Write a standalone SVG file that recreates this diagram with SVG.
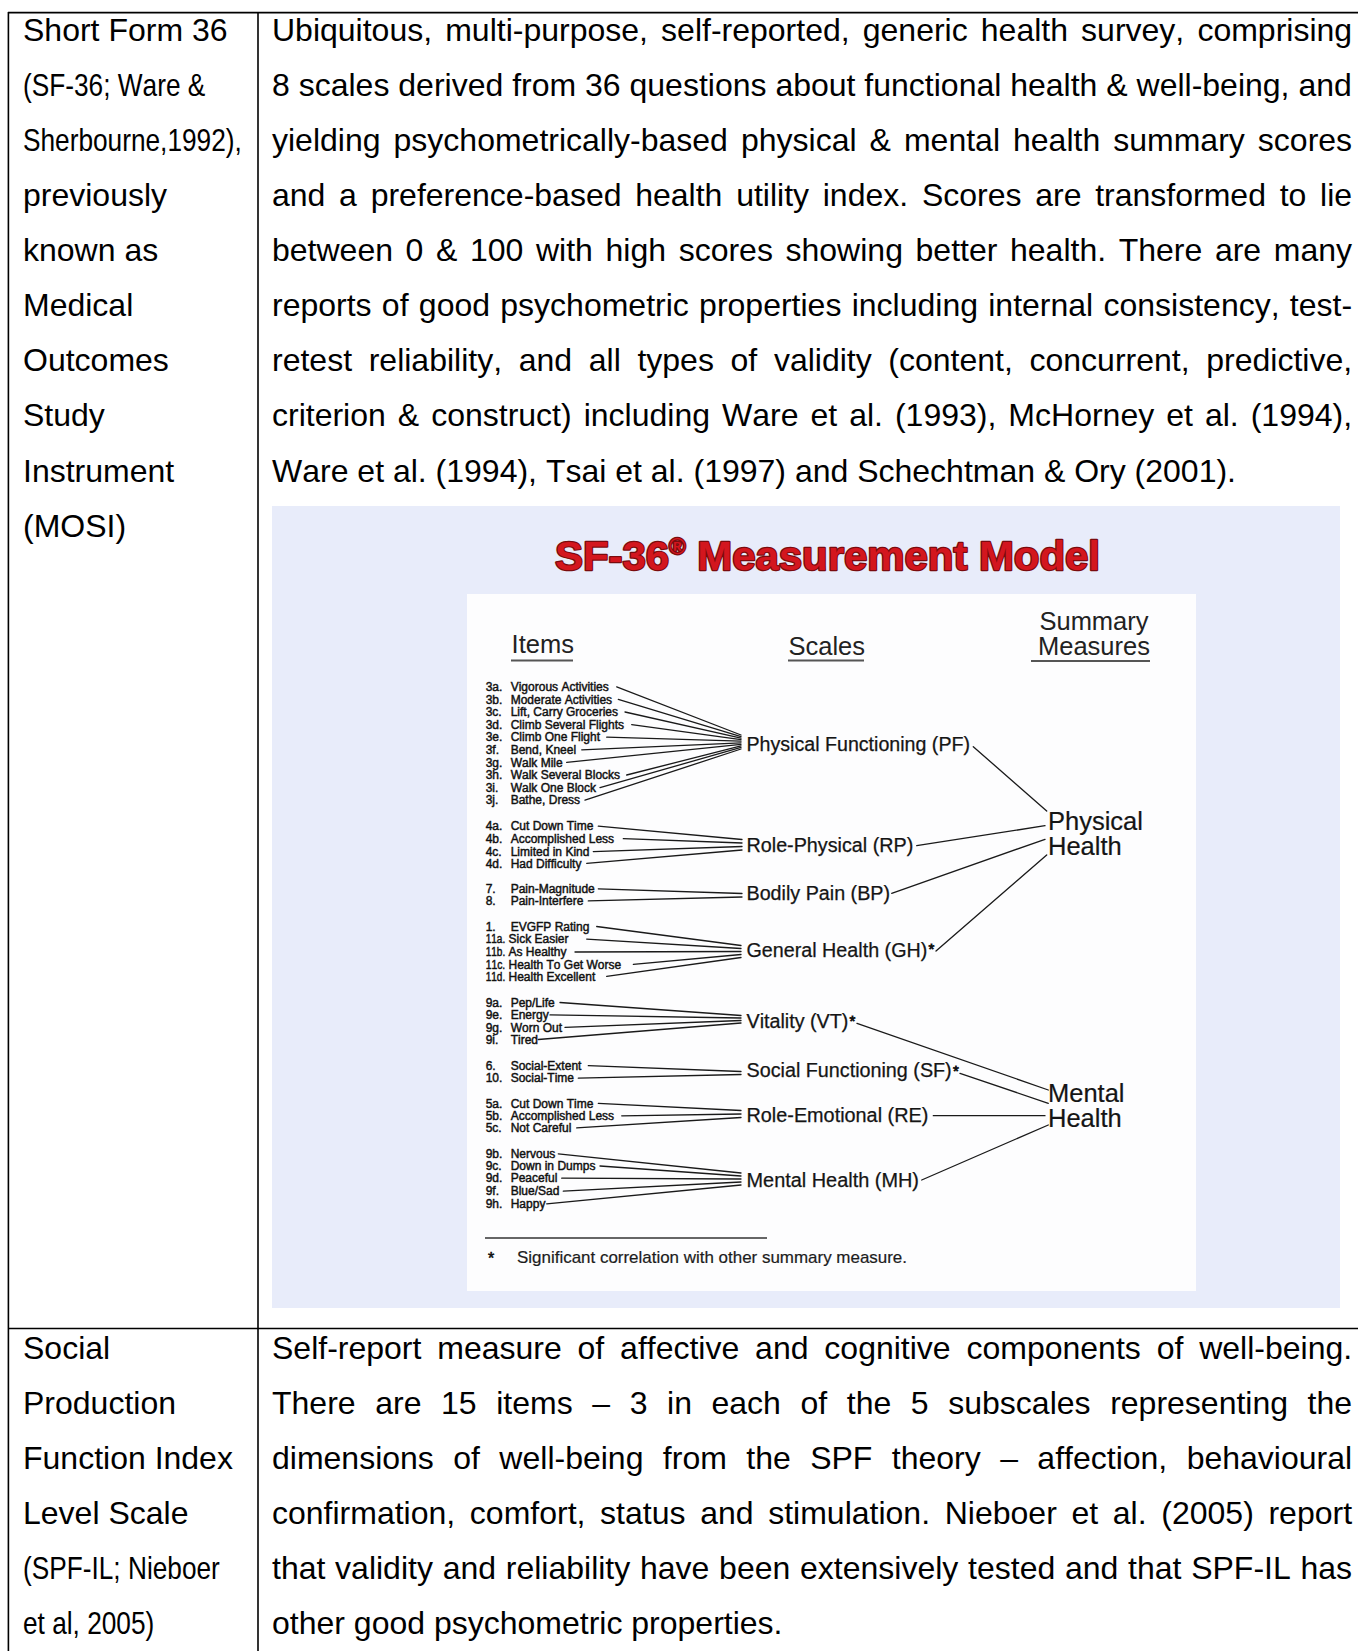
<svg xmlns="http://www.w3.org/2000/svg" width="1358" height="1651" viewBox="0 0 1358 1651">
<style>
text{font-family:"Liberation Sans",Arial,sans-serif;font-kerning:none}
.body{font-size:32px;fill:#000}
.narrow{font-family:"Liberation Sans Narrow","Arial Narrow","Liberation Sans",sans-serif;font-size:32px;fill:#000}
.grid{stroke:#000;stroke-width:1.6;fill:none}
.item{font-size:12px;fill:#111;stroke:#111;stroke-width:0.45}
.scale{font-size:19.5px;fill:#151515;stroke:#151515;stroke-width:0.25}
.summ{font-size:25.5px;fill:#151515;stroke:#151515;stroke-width:0.2}
.hdr{font-size:25.5px;fill:#222}
.ast{font-size:15px;fill:#111;stroke:#111;stroke-width:0.8}
.ul{stroke:#555;stroke-width:2}
.c line{stroke:#1a1a1a;stroke-width:1.3;stroke-linecap:round}
</style>
<rect width="1358" height="1651" fill="#fff"/>
<g id="table-grid">
<line class="grid" x1="8" y1="12.6" x2="1358" y2="12.6"/>
<line class="grid" x1="8.4" y1="12" x2="8.4" y2="1651"/>
<line class="grid" x1="258" y1="12" x2="258" y2="1651"/>
<line class="grid" x1="8" y1="1328.5" x2="1358" y2="1328.5"/>
</g>
<g id="row1-name">
<text class="body" x="23" y="41">Short Form 36</text>
<text class="narrow" x="23" y="96.1" textLength="182.3" lengthAdjust="spacingAndGlyphs">(SF-36; Ware &amp;</text>
<text class="narrow" x="23" y="151.1" textLength="218.8" lengthAdjust="spacingAndGlyphs">Sherbourne,1992),</text>
<text class="body" x="23" y="206.2">previously</text>
<text class="body" x="23" y="261.2">known as</text>
<text class="body" x="23" y="316.3">Medical</text>
<text class="body" x="23" y="371.4">Outcomes</text>
<text class="body" x="23" y="426.4">Study</text>
<text class="body" x="23" y="481.5">Instrument</text>
<text class="body" x="23" y="536.5">(MOSI)</text>
</g>
<g id="row1-desc">
<text class="body" x="272" y="41" word-spacing="4.23">Ubiquitous, multi-purpose, self-reported, generic health survey, comprising</text>
<text class="body" x="272" y="96.1">8 scales derived from 36 questions about functional health &amp; well-being, and</text>
<text class="body" x="272" y="151.1" word-spacing="4.14">yielding psychometrically-based physical &amp; mental health summary scores</text>
<text class="body" x="272" y="206.2" word-spacing="4.84">and a preference-based health utility index. Scores are transformed to lie</text>
<text class="body" x="272" y="261.2" word-spacing="3.73">between 0 &amp; 100 with high scores showing better health. There are many</text>
<text class="body" x="272" y="316.3" word-spacing="1.39">reports of good psychometric properties including internal consistency, test-</text>
<text class="body" x="272" y="371.4" word-spacing="7.76">retest reliability, and all types of validity (content, concurrent, predictive,</text>
<text class="body" x="272" y="426.4" word-spacing="3.12">criterion &amp; construct) including Ware et al. (1993), McHorney et al. (1994),</text>
<text class="body" x="272" y="481.5">Ware et al. (1994), Tsai et al. (1997) and Schechtman &amp; Ory (2001).</text>
</g>
<g id="sf36-figure">
<rect x="272" y="506" width="1068" height="802" fill="#E8ECFA"/>
<rect x="467" y="594" width="729" height="697" fill="#FDFDFE"/>
<text x="555" y="569.5" font-size="41" font-weight="bold" fill="#D3161E" stroke="#7a0b0e" stroke-width="2.4" paint-order="stroke" stroke-linejoin="round" textLength="545" lengthAdjust="spacingAndGlyphs">SF-36<tspan font-size="22" dy="-16">®</tspan><tspan dy="16"> Measurement Model</tspan></text>
</g>
<g id="headers">
<text class="hdr" x="511.6" y="653.4">Items</text>
<line class="ul" x1="511" y1="660.5" x2="573" y2="660.5"/>
<text class="hdr" x="788.5" y="654.5">Scales</text>
<line class="ul" x1="788" y1="660.5" x2="864" y2="660.5"/>
<text class="hdr" x="1094" y="630" text-anchor="middle">Summary</text>
<text class="hdr" x="1094" y="655" text-anchor="middle">Measures</text>
<line class="ul" x1="1031" y1="661" x2="1150" y2="661"/>
</g>
<g id="connectors" class="c">
<line x1="616.7" y1="686.8" x2="741" y2="735"/>
<line x1="618.3" y1="699.4" x2="741" y2="736.6"/>
<line x1="625" y1="712" x2="741" y2="738.1"/>
<line x1="631.7" y1="724.6" x2="741" y2="739.7"/>
<line x1="606.7" y1="737.2" x2="741" y2="741.2"/>
<line x1="581.7" y1="749.8" x2="741" y2="742.8"/>
<line x1="566.7" y1="762.4" x2="741" y2="744.3"/>
<line x1="626.7" y1="775" x2="741" y2="745.9"/>
<line x1="600" y1="787.6" x2="741" y2="747.4"/>
<line x1="585" y1="800.2" x2="741" y2="749"/>
<line x1="598.3" y1="826.2" x2="742" y2="839.5"/>
<line x1="623.3" y1="838.7" x2="742" y2="843"/>
<line x1="593.3" y1="851.6" x2="742" y2="846.5"/>
<line x1="586.7" y1="863.3" x2="742" y2="850"/>
<line x1="598.3" y1="888.8" x2="742" y2="893.5"/>
<line x1="588.3" y1="900.9" x2="742" y2="897"/>
<line x1="596.7" y1="926.5" x2="741" y2="945.5"/>
<line x1="586.7" y1="939.1" x2="741" y2="948.5"/>
<line x1="575" y1="952" x2="741" y2="951.5"/>
<line x1="633.3" y1="964.3" x2="741" y2="954.5"/>
<line x1="606.7" y1="976.3" x2="741" y2="957.5"/>
<line x1="560" y1="1002.5" x2="741" y2="1015.5"/>
<line x1="550" y1="1014.9" x2="741" y2="1018"/>
<line x1="565" y1="1027.4" x2="741" y2="1020.5"/>
<line x1="538.3" y1="1039.5" x2="741" y2="1023"/>
<line x1="588.3" y1="1065.7" x2="741" y2="1071.5"/>
<line x1="578.3" y1="1078.2" x2="741" y2="1074.5"/>
<line x1="598.3" y1="1103.3" x2="741" y2="1110.5"/>
<line x1="621.7" y1="1115.8" x2="741" y2="1114"/>
<line x1="576.7" y1="1127.9" x2="741" y2="1117.5"/>
<line x1="558.3" y1="1153.9" x2="741" y2="1173"/>
<line x1="600" y1="1166" x2="741" y2="1176"/>
<line x1="561.7" y1="1178.2" x2="741" y2="1179"/>
<line x1="563.3" y1="1191.2" x2="741" y2="1182"/>
<line x1="546.7" y1="1203.8" x2="741" y2="1185"/>
<line x1="973.3" y1="746.7" x2="1046.7" y2="811"/>
<line x1="916.7" y1="845.7" x2="1045" y2="825.7"/>
<line x1="891.7" y1="893.3" x2="1045" y2="839.3"/>
<line x1="936" y1="951" x2="1046.7" y2="855"/>
<line x1="857" y1="1023.3" x2="1048.3" y2="1090"/>
<line x1="960" y1="1073.3" x2="1048.3" y2="1103.3"/>
<line x1="933.3" y1="1115.7" x2="1045" y2="1115.7"/>
<line x1="921.7" y1="1180" x2="1048.3" y2="1125"/>
</g>
<g id="items-PF" class="item">
<text x="485.7" y="691">3a.</text><text x="510.7" y="691">Vigorous Activities</text>
<text x="485.7" y="703.6">3b.</text><text x="510.7" y="703.6">Moderate Activities</text>
<text x="485.7" y="716.2">3c.</text><text x="510.7" y="716.2">Lift, Carry Groceries</text>
<text x="485.7" y="728.8">3d.</text><text x="510.7" y="728.8">Climb Several Flights</text>
<text x="485.7" y="741.4">3e.</text><text x="510.7" y="741.4">Climb One Flight</text>
<text x="485.7" y="754">3f.</text><text x="510.7" y="754">Bend, Kneel</text>
<text x="485.7" y="766.6">3g.</text><text x="510.7" y="766.6">Walk Mile</text>
<text x="485.7" y="779.2">3h.</text><text x="510.7" y="779.2">Walk Several Blocks</text>
<text x="485.7" y="791.8">3i.</text><text x="510.7" y="791.8">Walk One Block</text>
<text x="485.7" y="804.4">3j.</text><text x="510.7" y="804.4">Bathe, Dress</text>
</g>
<g id="items-RP" class="item">
<text x="485.7" y="830.4">4a.</text><text x="510.7" y="830.4">Cut Down Time</text>
<text x="485.7" y="842.9">4b.</text><text x="510.7" y="842.9">Accomplished Less</text>
<text x="485.7" y="855.8">4c.</text><text x="510.7" y="855.8">Limited in Kind</text>
<text x="485.7" y="867.5">4d.</text><text x="510.7" y="867.5">Had Difficulty</text>
</g>
<g id="items-BP" class="item">
<text x="485.7" y="893">7.</text><text x="510.7" y="893">Pain-Magnitude</text>
<text x="485.7" y="905.1">8.</text><text x="510.7" y="905.1">Pain-Interfere</text>
</g>
<g id="items-GH" class="item">
<text x="485.7" y="930.7">1.</text><text x="510.7" y="930.7">EVGFP Rating</text>
<text x="485.7" y="943.3" textLength="19.5" lengthAdjust="spacingAndGlyphs">11a.</text><text x="508.5" y="943.3">Sick Easier</text>
<text x="485.7" y="956.2" textLength="19.5" lengthAdjust="spacingAndGlyphs">11b.</text><text x="508.5" y="956.2">As Healthy</text>
<text x="485.7" y="968.5" textLength="19.5" lengthAdjust="spacingAndGlyphs">11c.</text><text x="508.5" y="968.5">Health To Get Worse</text>
<text x="485.7" y="980.5" textLength="19.5" lengthAdjust="spacingAndGlyphs">11d.</text><text x="508.5" y="980.5">Health Excellent</text>
</g>
<g id="items-VT" class="item">
<text x="485.7" y="1006.7">9a.</text><text x="510.7" y="1006.7">Pep/Life</text>
<text x="485.7" y="1019.1">9e.</text><text x="510.7" y="1019.1">Energy</text>
<text x="485.7" y="1031.6">9g.</text><text x="510.7" y="1031.6">Worn Out</text>
<text x="485.7" y="1043.7">9i.</text><text x="510.7" y="1043.7">Tired</text>
</g>
<g id="items-SF" class="item">
<text x="485.7" y="1069.9">6.</text><text x="510.7" y="1069.9">Social-Extent</text>
<text x="485.7" y="1082.4">10.</text><text x="510.7" y="1082.4">Social-Time</text>
</g>
<g id="items-RE" class="item">
<text x="485.7" y="1107.5">5a.</text><text x="510.7" y="1107.5">Cut Down Time</text>
<text x="485.7" y="1120">5b.</text><text x="510.7" y="1120">Accomplished Less</text>
<text x="485.7" y="1132.1">5c.</text><text x="510.7" y="1132.1">Not Careful</text>
</g>
<g id="items-MH" class="item">
<text x="485.7" y="1158.1">9b.</text><text x="510.7" y="1158.1">Nervous</text>
<text x="485.7" y="1170.2">9c.</text><text x="510.7" y="1170.2">Down in Dumps</text>
<text x="485.7" y="1182.4">9d.</text><text x="510.7" y="1182.4">Peaceful</text>
<text x="485.7" y="1195.4">9f.</text><text x="510.7" y="1195.4">Blue/Sad</text>
<text x="485.7" y="1208">9h.</text><text x="510.7" y="1208">Happy</text>
</g>
<g id="scale-PF"><text class="scale" x="746.5" y="751" textLength="223.5" lengthAdjust="spacingAndGlyphs">Physical Functioning (PF)</text></g>
<g id="scale-RP"><text class="scale" x="746.5" y="851.7" textLength="166.8" lengthAdjust="spacingAndGlyphs">Role-Physical (RP)</text></g>
<g id="scale-BP"><text class="scale" x="746.5" y="900" textLength="143.5" lengthAdjust="spacingAndGlyphs">Bodily Pain (BP)</text></g>
<g id="scale-GH"><text class="scale" x="746.5" y="956.7" textLength="180.8" lengthAdjust="spacingAndGlyphs">General Health (GH)</text><text class="ast" x="928.5" y="954">*</text></g>
<g id="scale-VT"><text class="scale" x="746.5" y="1028.3" textLength="101.8" lengthAdjust="spacingAndGlyphs">Vitality (VT)</text><text class="ast" x="849.5" y="1026">*</text></g>
<g id="scale-SF"><text class="scale" x="746.5" y="1077.3" textLength="205.2" lengthAdjust="spacingAndGlyphs">Social Functioning (SF)</text><text class="ast" x="953" y="1076">*</text></g>
<g id="scale-RE"><text class="scale" x="746.5" y="1121.7" textLength="181.8" lengthAdjust="spacingAndGlyphs">Role-Emotional (RE)</text></g>
<g id="scale-MH"><text class="scale" x="746.5" y="1186.7" textLength="172.5" lengthAdjust="spacingAndGlyphs">Mental Health (MH)</text></g>
<g id="summary-physical">
<text class="summ" x="1048" y="830">Physical</text>
<text class="summ" x="1048" y="855">Health</text>
</g>
<g id="summary-mental">
<text class="summ" x="1048" y="1101.7">Mental</text>
<text class="summ" x="1048" y="1126.7">Health</text>
</g>
<g id="footnote">
<line x1="485" y1="1238" x2="767" y2="1238" stroke="#333" stroke-width="1.6"/>
<text x="488" y="1264" font-size="16" fill="#111" stroke="#111" stroke-width="0.6">*</text>
<text x="517" y="1263" font-size="17" fill="#1c1c1c" stroke="#1c1c1c" stroke-width="0.2" textLength="390" lengthAdjust="spacingAndGlyphs">Significant correlation with other summary measure.</text>
</g>
<g id="row2-name">
<text class="body" x="23" y="1359">Social</text>
<text class="body" x="23" y="1414.1">Production</text>
<text class="body" x="23" y="1469.1">Function Index</text>
<text class="body" x="23" y="1524.2">Level Scale</text>
<text class="narrow" x="23" y="1579.2" textLength="196.8" lengthAdjust="spacingAndGlyphs">(SPF-IL; Nieboer</text>
<text class="narrow" x="23" y="1634.3" textLength="131.3" lengthAdjust="spacingAndGlyphs">et al, 2005)</text>
</g>
<g id="row2-desc">
<text class="body" x="272" y="1359" word-spacing="6.95">Self-report measure of affective and cognitive components of well-being.</text>
<text class="body" x="272" y="1414.1" word-spacing="10.7">There are 15 items – 3 in each of the 5 subscales representing the</text>
<text class="body" x="272" y="1469.1" word-spacing="10.52">dimensions of well-being from the SPF theory – affection, behavioural</text>
<text class="body" x="272" y="1524.2" word-spacing="5.78">confirmation, comfort, status and stimulation. Nieboer et al. (2005) report</text>
<text class="body" x="272" y="1579.2" word-spacing="0.84">that validity and reliability have been extensively tested and that SPF-IL has</text>
<text class="body" x="272" y="1634.3">other good psychometric properties.</text>
</g>
</svg>
